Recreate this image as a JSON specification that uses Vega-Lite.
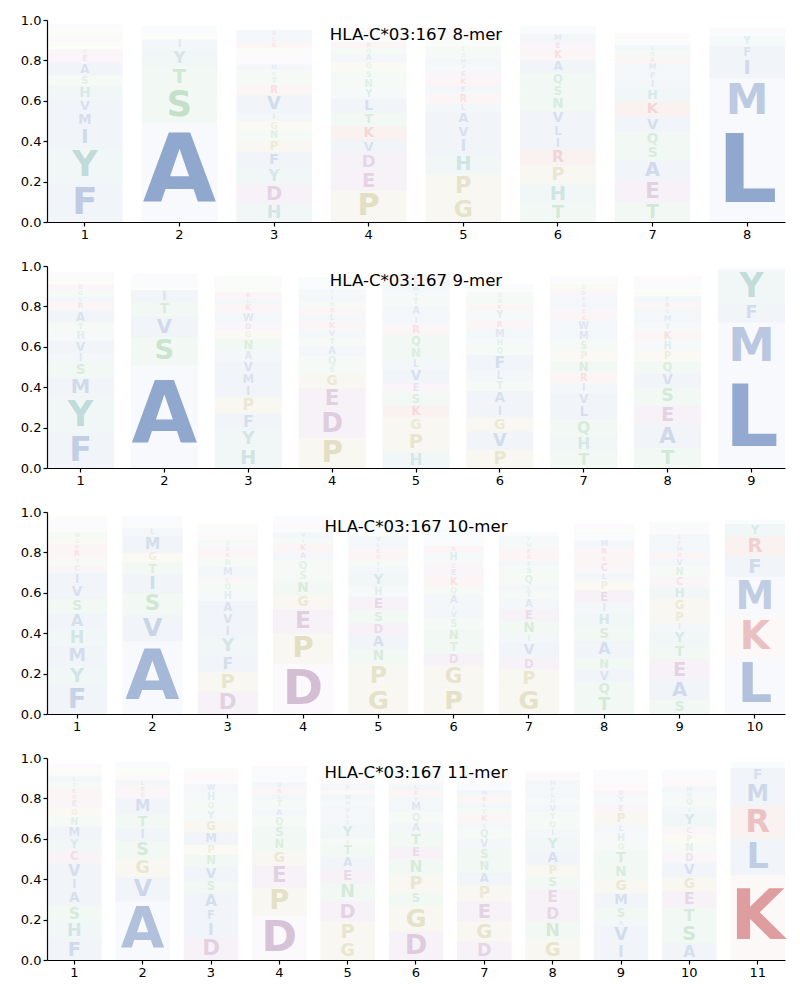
{
"$schema": "https://vega.github.io/schema/vega-lite/v6.json",
"padding": {"left": 20, "top": 14, "right": 15, "bottom": 5},
"spacing": 19,
"resolve": {"scale": {"x": "independent", "size": "independent"}},
"data": {"values": [
{"k":"8-mer","p":1,"a":"F","h":0.19},{"k":"8-mer","p":1,"a":"Y","h":0.18},{"k":"8-mer","p":1,"a":"I","h":0.10},{"k":"8-mer","p":1,"a":"M","h":0.07},{"k":"8-mer","p":1,"a":"V","h":0.065},{"k":"8-mer","p":1,"a":"H","h":0.07},{"k":"8-mer","p":1,"a":"S","h":0.05},{"k":"8-mer","p":1,"a":"A","h":0.06},{"k":"8-mer","p":1,"a":"E","h":0.04},{"k":"8-mer","p":1,"a":"C","h":0.03},{"k":"8-mer","p":1,"a":"G","h":0.02},{"k":"8-mer","p":1,"a":"T","h":0.02},{"k":"8-mer","p":1,"a":"R","h":0.02},{"k":"8-mer","p":1,"a":"Q","h":0.015},{"k":"8-mer","p":1,"a":"N","h":0.01},{"k":"8-mer","p":1,"a":"P","h":0.01},{"k":"8-mer","p":1,"a":"L","h":0.01},{"k":"8-mer","p":1,"a":"W","h":0.01},{"k":"8-mer","p":1,"a":"D","h":0.01},
{"k":"8-mer","p":2,"a":"A","h":0.49},{"k":"8-mer","p":2,"a":"S","h":0.18},{"k":"8-mer","p":2,"a":"T","h":0.10},{"k":"8-mer","p":2,"a":"Y","h":0.085},{"k":"8-mer","p":2,"a":"I","h":0.05},{"k":"8-mer","p":2,"a":"G","h":0.02},{"k":"8-mer","p":2,"a":"V","h":0.015},{"k":"8-mer","p":2,"a":"L","h":0.01},{"k":"8-mer","p":2,"a":"M","h":0.01},{"k":"8-mer","p":2,"a":"F","h":0.01},
{"k":"8-mer","p":3,"a":"H","h":0.09},{"k":"8-mer","p":3,"a":"D","h":0.10},{"k":"8-mer","p":3,"a":"Y","h":0.08},{"k":"8-mer","p":3,"a":"F","h":0.075},{"k":"8-mer","p":3,"a":"P","h":0.06},{"k":"8-mer","p":3,"a":"N","h":0.05},{"k":"8-mer","p":3,"a":"G","h":0.045},{"k":"8-mer","p":3,"a":"I","h":0.04},{"k":"8-mer","p":3,"a":"V","h":0.09},{"k":"8-mer","p":3,"a":"R","h":0.05},{"k":"8-mer","p":3,"a":"T","h":0.04},{"k":"8-mer","p":3,"a":"S","h":0.03},{"k":"8-mer","p":3,"a":"M","h":0.03},{"k":"8-mer","p":3,"a":"E","h":0.02},{"k":"8-mer","p":3,"a":"W","h":0.02},{"k":"8-mer","p":3,"a":"C","h":0.02},{"k":"8-mer","p":3,"a":"Q","h":0.02},{"k":"8-mer","p":3,"a":"K","h":0.03},{"k":"8-mer","p":3,"a":"L","h":0.03},{"k":"8-mer","p":3,"a":"A","h":0.03},
{"k":"8-mer","p":4,"a":"P","h":0.155},{"k":"8-mer","p":4,"a":"E","h":0.10},{"k":"8-mer","p":4,"a":"D","h":0.085},{"k":"8-mer","p":4,"a":"V","h":0.065},{"k":"8-mer","p":4,"a":"K","h":0.07},{"k":"8-mer","p":4,"a":"T","h":0.065},{"k":"8-mer","p":4,"a":"L","h":0.07},{"k":"8-mer","p":4,"a":"Y","h":0.05},{"k":"8-mer","p":4,"a":"N","h":0.05},{"k":"8-mer","p":4,"a":"S","h":0.04},{"k":"8-mer","p":4,"a":"G","h":0.04},{"k":"8-mer","p":4,"a":"A","h":0.04},{"k":"8-mer","p":4,"a":"Q","h":0.03},{"k":"8-mer","p":4,"a":"R","h":0.03},{"k":"8-mer","p":4,"a":"M","h":0.02},{"k":"8-mer","p":4,"a":"F","h":0.02},{"k":"8-mer","p":4,"a":"H","h":0.02},{"k":"8-mer","p":4,"a":"C","h":0.01},
{"k":"8-mer","p":5,"a":"G","h":0.12},{"k":"8-mer","p":5,"a":"P","h":0.115},{"k":"8-mer","p":5,"a":"H","h":0.10},{"k":"8-mer","p":5,"a":"I","h":0.08},{"k":"8-mer","p":5,"a":"V","h":0.065},{"k":"8-mer","p":5,"a":"A","h":0.065},{"k":"8-mer","p":5,"a":"L","h":0.04},{"k":"8-mer","p":5,"a":"R","h":0.05},{"k":"8-mer","p":5,"a":"F","h":0.04},{"k":"8-mer","p":5,"a":"K","h":0.04},{"k":"8-mer","p":5,"a":"E","h":0.035},{"k":"8-mer","p":5,"a":"Y","h":0.03},{"k":"8-mer","p":5,"a":"M","h":0.03},{"k":"8-mer","p":5,"a":"S","h":0.03},{"k":"8-mer","p":5,"a":"T","h":0.03},{"k":"8-mer","p":5,"a":"N","h":0.02},{"k":"8-mer","p":5,"a":"Q","h":0.02},{"k":"8-mer","p":5,"a":"D","h":0.02},{"k":"8-mer","p":5,"a":"C","h":0.02},{"k":"8-mer","p":5,"a":"W","h":0.01},
{"k":"8-mer","p":6,"a":"T","h":0.09},{"k":"8-mer","p":6,"a":"H","h":0.10},{"k":"8-mer","p":6,"a":"P","h":0.09},{"k":"8-mer","p":6,"a":"R","h":0.08},{"k":"8-mer","p":6,"a":"I","h":0.06},{"k":"8-mer","p":6,"a":"L","h":0.06},{"k":"8-mer","p":6,"a":"V","h":0.07},{"k":"8-mer","p":6,"a":"N","h":0.07},{"k":"8-mer","p":6,"a":"S","h":0.06},{"k":"8-mer","p":6,"a":"Q","h":0.06},{"k":"8-mer","p":6,"a":"A","h":0.06},{"k":"8-mer","p":6,"a":"K","h":0.05},{"k":"8-mer","p":6,"a":"E","h":0.04},{"k":"8-mer","p":6,"a":"M","h":0.04},{"k":"8-mer","p":6,"a":"F","h":0.02},{"k":"8-mer","p":6,"a":"Y","h":0.02},
{"k":"8-mer","p":7,"a":"T","h":0.095},{"k":"8-mer","p":7,"a":"E","h":0.11},{"k":"8-mer","p":7,"a":"A","h":0.10},{"k":"8-mer","p":7,"a":"S","h":0.07},{"k":"8-mer","p":7,"a":"Q","h":0.07},{"k":"8-mer","p":7,"a":"V","h":0.075},{"k":"8-mer","p":7,"a":"K","h":0.075},{"k":"8-mer","p":7,"a":"H","h":0.065},{"k":"8-mer","p":7,"a":"I","h":0.045},{"k":"8-mer","p":7,"a":"F","h":0.04},{"k":"8-mer","p":7,"a":"M","h":0.04},{"k":"8-mer","p":7,"a":"R","h":0.03},{"k":"8-mer","p":7,"a":"N","h":0.03},{"k":"8-mer","p":7,"a":"L","h":0.03},{"k":"8-mer","p":7,"a":"Y","h":0.02},{"k":"8-mer","p":7,"a":"G","h":0.02},{"k":"8-mer","p":7,"a":"D","h":0.02},
{"k":"8-mer","p":8,"a":"L","h":0.49},{"k":"8-mer","p":8,"a":"M","h":0.22},{"k":"8-mer","p":8,"a":"I","h":0.10},{"k":"8-mer","p":8,"a":"F","h":0.06},{"k":"8-mer","p":8,"a":"Y","h":0.05},{"k":"8-mer","p":8,"a":"V","h":0.02},{"k":"8-mer","p":8,"a":"K","h":0.01},{"k":"8-mer","p":8,"a":"W","h":0.01},
{"k":"9-mer","p":1,"a":"F","h":0.17},{"k":"9-mer","p":1,"a":"Y","h":0.18},{"k":"9-mer","p":1,"a":"M","h":0.10},{"k":"9-mer","p":1,"a":"S","h":0.07},{"k":"9-mer","p":1,"a":"I","h":0.05},{"k":"9-mer","p":1,"a":"V","h":0.06},{"k":"9-mer","p":1,"a":"H","h":0.05},{"k":"9-mer","p":1,"a":"T","h":0.04},{"k":"9-mer","p":1,"a":"A","h":0.06},{"k":"9-mer","p":1,"a":"R","h":0.04},{"k":"9-mer","p":1,"a":"L","h":0.03},{"k":"9-mer","p":1,"a":"Q","h":0.03},{"k":"9-mer","p":1,"a":"E","h":0.03},{"k":"9-mer","p":1,"a":"G","h":0.02},{"k":"9-mer","p":1,"a":"N","h":0.02},{"k":"9-mer","p":1,"a":"D","h":0.02},
{"k":"9-mer","p":2,"a":"A","h":0.51},{"k":"9-mer","p":2,"a":"S","h":0.14},{"k":"9-mer","p":2,"a":"V","h":0.10},{"k":"9-mer","p":2,"a":"T","h":0.07},{"k":"9-mer","p":2,"a":"I","h":0.06},{"k":"9-mer","p":2,"a":"G","h":0.02},{"k":"9-mer","p":2,"a":"L","h":0.02},{"k":"9-mer","p":2,"a":"Q","h":0.01},{"k":"9-mer","p":2,"a":"M","h":0.01},{"k":"9-mer","p":2,"a":"F","h":0.01},{"k":"9-mer","p":2,"a":"K","h":0.01},
{"k":"9-mer","p":3,"a":"H","h":0.10},{"k":"9-mer","p":3,"a":"Y","h":0.09},{"k":"9-mer","p":3,"a":"F","h":0.08},{"k":"9-mer","p":3,"a":"P","h":0.08},{"k":"9-mer","p":3,"a":"I","h":0.06},{"k":"9-mer","p":3,"a":"M","h":0.06},{"k":"9-mer","p":3,"a":"V","h":0.06},{"k":"9-mer","p":3,"a":"A","h":0.05},{"k":"9-mer","p":3,"a":"N","h":0.06},{"k":"9-mer","p":3,"a":"G","h":0.04},{"k":"9-mer","p":3,"a":"D","h":0.04},{"k":"9-mer","p":3,"a":"W","h":0.05},{"k":"9-mer","p":3,"a":"K","h":0.04},{"k":"9-mer","p":3,"a":"L","h":0.03},{"k":"9-mer","p":3,"a":"R","h":0.03},{"k":"9-mer","p":3,"a":"S","h":0.02},{"k":"9-mer","p":3,"a":"T","h":0.02},{"k":"9-mer","p":3,"a":"E","h":0.02},{"k":"9-mer","p":3,"a":"Q","h":0.02},
{"k":"9-mer","p":4,"a":"P","h":0.15},{"k":"9-mer","p":4,"a":"D","h":0.135},{"k":"9-mer","p":4,"a":"E","h":0.11},{"k":"9-mer","p":4,"a":"G","h":0.07},{"k":"9-mer","p":4,"a":"S","h":0.04},{"k":"9-mer","p":4,"a":"Q","h":0.05},{"k":"9-mer","p":4,"a":"A","h":0.05},{"k":"9-mer","p":4,"a":"T","h":0.04},{"k":"9-mer","p":4,"a":"V","h":0.04},{"k":"9-mer","p":4,"a":"K","h":0.04},{"k":"9-mer","p":4,"a":"L","h":0.04},{"k":"9-mer","p":4,"a":"R","h":0.03},{"k":"9-mer","p":4,"a":"N","h":0.03},{"k":"9-mer","p":4,"a":"I","h":0.03},{"k":"9-mer","p":4,"a":"Y","h":0.03},{"k":"9-mer","p":4,"a":"F","h":0.02},{"k":"9-mer","p":4,"a":"M","h":0.02},{"k":"9-mer","p":4,"a":"H","h":0.02},
{"k":"9-mer","p":5,"a":"H","h":0.08},{"k":"9-mer","p":5,"a":"P","h":0.10},{"k":"9-mer","p":5,"a":"G","h":0.07},{"k":"9-mer","p":5,"a":"K","h":0.06},{"k":"9-mer","p":5,"a":"S","h":0.06},{"k":"9-mer","p":5,"a":"E","h":0.05},{"k":"9-mer","p":5,"a":"V","h":0.07},{"k":"9-mer","p":5,"a":"L","h":0.05},{"k":"9-mer","p":5,"a":"N","h":0.06},{"k":"9-mer","p":5,"a":"Q","h":0.06},{"k":"9-mer","p":5,"a":"R","h":0.05},{"k":"9-mer","p":5,"a":"I","h":0.04},{"k":"9-mer","p":5,"a":"A","h":0.05},{"k":"9-mer","p":5,"a":"T","h":0.04},{"k":"9-mer","p":5,"a":"Y","h":0.03},{"k":"9-mer","p":5,"a":"M","h":0.03},{"k":"9-mer","p":5,"a":"F","h":0.03},{"k":"9-mer","p":5,"a":"D","h":0.03},
{"k":"9-mer","p":6,"a":"P","h":0.09},{"k":"9-mer","p":6,"a":"V","h":0.09},{"k":"9-mer","p":6,"a":"G","h":0.07},{"k":"9-mer","p":6,"a":"I","h":0.06},{"k":"9-mer","p":6,"a":"A","h":0.07},{"k":"9-mer","p":6,"a":"T","h":0.05},{"k":"9-mer","p":6,"a":"L","h":0.05},{"k":"9-mer","p":6,"a":"F","h":0.08},{"k":"9-mer","p":6,"a":"Q","h":0.04},{"k":"9-mer","p":6,"a":"H","h":0.04},{"k":"9-mer","p":6,"a":"M","h":0.05},{"k":"9-mer","p":6,"a":"R","h":0.04},{"k":"9-mer","p":6,"a":"Y","h":0.05},{"k":"9-mer","p":6,"a":"K","h":0.03},{"k":"9-mer","p":6,"a":"N","h":0.03},{"k":"9-mer","p":6,"a":"S","h":0.03},{"k":"9-mer","p":6,"a":"D","h":0.02},{"k":"9-mer","p":6,"a":"W","h":0.02},
{"k":"9-mer","p":7,"a":"T","h":0.08},{"k":"9-mer","p":7,"a":"H","h":0.08},{"k":"9-mer","p":7,"a":"Q","h":0.08},{"k":"9-mer","p":7,"a":"L","h":0.07},{"k":"9-mer","p":7,"a":"V","h":0.06},{"k":"9-mer","p":7,"a":"I","h":0.05},{"k":"9-mer","p":7,"a":"R","h":0.05},{"k":"9-mer","p":7,"a":"N","h":0.06},{"k":"9-mer","p":7,"a":"P","h":0.05},{"k":"9-mer","p":7,"a":"S","h":0.05},{"k":"9-mer","p":7,"a":"M","h":0.05},{"k":"9-mer","p":7,"a":"W","h":0.05},{"k":"9-mer","p":7,"a":"K","h":0.03},{"k":"9-mer","p":7,"a":"E","h":0.03},{"k":"9-mer","p":7,"a":"A","h":0.03},{"k":"9-mer","p":7,"a":"F","h":0.03},{"k":"9-mer","p":7,"a":"D","h":0.03},{"k":"9-mer","p":7,"a":"G","h":0.03},{"k":"9-mer","p":7,"a":"Y","h":0.02},{"k":"9-mer","p":7,"a":"C","h":0.02},
{"k":"9-mer","p":8,"a":"T","h":0.10},{"k":"9-mer","p":8,"a":"A","h":0.11},{"k":"9-mer","p":8,"a":"E","h":0.10},{"k":"9-mer","p":8,"a":"S","h":0.09},{"k":"9-mer","p":8,"a":"V","h":0.07},{"k":"9-mer","p":8,"a":"Q","h":0.06},{"k":"9-mer","p":8,"a":"P","h":0.05},{"k":"9-mer","p":8,"a":"H","h":0.05},{"k":"9-mer","p":8,"a":"K","h":0.05},{"k":"9-mer","p":8,"a":"Y","h":0.04},{"k":"9-mer","p":8,"a":"M","h":0.04},{"k":"9-mer","p":8,"a":"L","h":0.03},{"k":"9-mer","p":8,"a":"R","h":0.03},{"k":"9-mer","p":8,"a":"F","h":0.03},{"k":"9-mer","p":8,"a":"N","h":0.02},{"k":"9-mer","p":8,"a":"G","h":0.02},{"k":"9-mer","p":8,"a":"I","h":0.02},{"k":"9-mer","p":8,"a":"D","h":0.02},{"k":"9-mer","p":8,"a":"C","h":0.02},
{"k":"9-mer","p":9,"a":"L","h":0.48},{"k":"9-mer","p":9,"a":"M","h":0.24},{"k":"9-mer","p":9,"a":"F","h":0.09},{"k":"9-mer","p":9,"a":"Y","h":0.17},{"k":"9-mer","p":9,"a":"V","h":0.01},
{"k":"10-mer","p":1,"a":"F","h":0.14},{"k":"10-mer","p":1,"a":"Y","h":0.10},{"k":"10-mer","p":1,"a":"M","h":0.09},{"k":"10-mer","p":1,"a":"H","h":0.09},{"k":"10-mer","p":1,"a":"A","h":0.08},{"k":"10-mer","p":1,"a":"S","h":0.07},{"k":"10-mer","p":1,"a":"V","h":0.07},{"k":"10-mer","p":1,"a":"I","h":0.06},{"k":"10-mer","p":1,"a":"C","h":0.04},{"k":"10-mer","p":1,"a":"T","h":0.03},{"k":"10-mer","p":1,"a":"R","h":0.04},{"k":"10-mer","p":1,"a":"K","h":0.03},{"k":"10-mer","p":1,"a":"G","h":0.03},{"k":"10-mer","p":1,"a":"N","h":0.03},{"k":"10-mer","p":1,"a":"Q","h":0.02},{"k":"10-mer","p":1,"a":"E","h":0.02},{"k":"10-mer","p":1,"a":"L","h":0.02},{"k":"10-mer","p":1,"a":"P","h":0.02},
{"k":"10-mer","p":2,"a":"A","h":0.36},{"k":"10-mer","p":2,"a":"V","h":0.13},{"k":"10-mer","p":2,"a":"S","h":0.11},{"k":"10-mer","p":2,"a":"I","h":0.09},{"k":"10-mer","p":2,"a":"T","h":0.06},{"k":"10-mer","p":2,"a":"G","h":0.05},{"k":"10-mer","p":2,"a":"M","h":0.08},{"k":"10-mer","p":2,"a":"L","h":0.04},{"k":"10-mer","p":2,"a":"Q","h":0.02},{"k":"10-mer","p":2,"a":"K","h":0.01},{"k":"10-mer","p":2,"a":"E","h":0.01},{"k":"10-mer","p":2,"a":"F","h":0.01},{"k":"10-mer","p":2,"a":"Y","h":0.01},
{"k":"10-mer","p":3,"a":"D","h":0.11},{"k":"10-mer","p":3,"a":"P","h":0.10},{"k":"10-mer","p":3,"a":"F","h":0.08},{"k":"10-mer","p":3,"a":"Y","h":0.09},{"k":"10-mer","p":3,"a":"I","h":0.06},{"k":"10-mer","p":3,"a":"V","h":0.06},{"k":"10-mer","p":3,"a":"A","h":0.06},{"k":"10-mer","p":3,"a":"H","h":0.05},{"k":"10-mer","p":3,"a":"Q","h":0.04},{"k":"10-mer","p":3,"a":"C","h":0.03},{"k":"10-mer","p":3,"a":"M","h":0.05},{"k":"10-mer","p":3,"a":"N","h":0.04},{"k":"10-mer","p":3,"a":"K","h":0.03},{"k":"10-mer","p":3,"a":"E","h":0.03},{"k":"10-mer","p":3,"a":"S","h":0.03},{"k":"10-mer","p":3,"a":"R","h":0.02},{"k":"10-mer","p":3,"a":"T","h":0.02},{"k":"10-mer","p":3,"a":"W","h":0.02},{"k":"10-mer","p":3,"a":"G","h":0.02},
{"k":"10-mer","p":4,"a":"D","h":0.25},{"k":"10-mer","p":4,"a":"P","h":0.15},{"k":"10-mer","p":4,"a":"E","h":0.12},{"k":"10-mer","p":4,"a":"G","h":0.07},{"k":"10-mer","p":4,"a":"N","h":0.07},{"k":"10-mer","p":4,"a":"S","h":0.05},{"k":"10-mer","p":4,"a":"Q","h":0.05},{"k":"10-mer","p":4,"a":"A","h":0.04},{"k":"10-mer","p":4,"a":"K","h":0.04},{"k":"10-mer","p":4,"a":"T","h":0.03},{"k":"10-mer","p":4,"a":"V","h":0.03},{"k":"10-mer","p":4,"a":"L","h":0.02},{"k":"10-mer","p":4,"a":"R","h":0.02},{"k":"10-mer","p":4,"a":"M","h":0.02},{"k":"10-mer","p":4,"a":"F","h":0.02},
{"k":"10-mer","p":5,"a":"G","h":0.13},{"k":"10-mer","p":5,"a":"P","h":0.12},{"k":"10-mer","p":5,"a":"N","h":0.07},{"k":"10-mer","p":5,"a":"A","h":0.07},{"k":"10-mer","p":5,"a":"D","h":0.06},{"k":"10-mer","p":5,"a":"S","h":0.06},{"k":"10-mer","p":5,"a":"E","h":0.07},{"k":"10-mer","p":5,"a":"H","h":0.05},{"k":"10-mer","p":5,"a":"Y","h":0.07},{"k":"10-mer","p":5,"a":"I","h":0.03},{"k":"10-mer","p":5,"a":"T","h":0.03},{"k":"10-mer","p":5,"a":"R","h":0.03},{"k":"10-mer","p":5,"a":"K","h":0.03},{"k":"10-mer","p":5,"a":"L","h":0.03},{"k":"10-mer","p":5,"a":"V","h":0.03},{"k":"10-mer","p":5,"a":"Q","h":0.02},{"k":"10-mer","p":5,"a":"M","h":0.02},{"k":"10-mer","p":5,"a":"F","h":0.02},{"k":"10-mer","p":5,"a":"W","h":0.02},
{"k":"10-mer","p":6,"a":"P","h":0.13},{"k":"10-mer","p":6,"a":"G","h":0.11},{"k":"10-mer","p":6,"a":"D","h":0.06},{"k":"10-mer","p":6,"a":"T","h":0.06},{"k":"10-mer","p":6,"a":"N","h":0.06},{"k":"10-mer","p":6,"a":"S","h":0.05},{"k":"10-mer","p":6,"a":"V","h":0.04},{"k":"10-mer","p":6,"a":"I","h":0.03},{"k":"10-mer","p":6,"a":"A","h":0.05},{"k":"10-mer","p":6,"a":"Q","h":0.04},{"k":"10-mer","p":6,"a":"K","h":0.05},{"k":"10-mer","p":6,"a":"E","h":0.04},{"k":"10-mer","p":6,"a":"C","h":0.03},{"k":"10-mer","p":6,"a":"H","h":0.05},{"k":"10-mer","p":6,"a":"R","h":0.03},{"k":"10-mer","p":6,"a":"L","h":0.02},{"k":"10-mer","p":6,"a":"M","h":0.02},{"k":"10-mer","p":6,"a":"F","h":0.02},{"k":"10-mer","p":6,"a":"Y","h":0.02},{"k":"10-mer","p":6,"a":"W","h":0.02},
{"k":"10-mer","p":7,"a":"G","h":0.13},{"k":"10-mer","p":7,"a":"P","h":0.09},{"k":"10-mer","p":7,"a":"D","h":0.06},{"k":"10-mer","p":7,"a":"V","h":0.07},{"k":"10-mer","p":7,"a":"I","h":0.04},{"k":"10-mer","p":7,"a":"N","h":0.07},{"k":"10-mer","p":7,"a":"E","h":0.06},{"k":"10-mer","p":7,"a":"A","h":0.05},{"k":"10-mer","p":7,"a":"T","h":0.04},{"k":"10-mer","p":7,"a":"L","h":0.03},{"k":"10-mer","p":7,"a":"Q","h":0.05},{"k":"10-mer","p":7,"a":"S","h":0.04},{"k":"10-mer","p":7,"a":"F","h":0.03},{"k":"10-mer","p":7,"a":"R","h":0.03},{"k":"10-mer","p":7,"a":"K","h":0.03},{"k":"10-mer","p":7,"a":"H","h":0.03},{"k":"10-mer","p":7,"a":"Y","h":0.03},{"k":"10-mer","p":7,"a":"M","h":0.02},
{"k":"10-mer","p":8,"a":"T","h":0.09},{"k":"10-mer","p":8,"a":"Q","h":0.07},{"k":"10-mer","p":8,"a":"V","h":0.06},{"k":"10-mer","p":8,"a":"N","h":0.06},{"k":"10-mer","p":8,"a":"A","h":0.08},{"k":"10-mer","p":8,"a":"S","h":0.07},{"k":"10-mer","p":8,"a":"H","h":0.07},{"k":"10-mer","p":8,"a":"I","h":0.05},{"k":"10-mer","p":8,"a":"E","h":0.06},{"k":"10-mer","p":8,"a":"P","h":0.05},{"k":"10-mer","p":8,"a":"L","h":0.04},{"k":"10-mer","p":8,"a":"C","h":0.05},{"k":"10-mer","p":8,"a":"K","h":0.03},{"k":"10-mer","p":8,"a":"R","h":0.04},{"k":"10-mer","p":8,"a":"M","h":0.04},{"k":"10-mer","p":8,"a":"F","h":0.02},{"k":"10-mer","p":8,"a":"Y","h":0.02},{"k":"10-mer","p":8,"a":"G","h":0.02},{"k":"10-mer","p":8,"a":"D","h":0.02},
{"k":"10-mer","p":9,"a":"S","h":0.07},{"k":"10-mer","p":9,"a":"A","h":0.10},{"k":"10-mer","p":9,"a":"E","h":0.10},{"k":"10-mer","p":9,"a":"T","h":0.07},{"k":"10-mer","p":9,"a":"Y","h":0.07},{"k":"10-mer","p":9,"a":"I","h":0.04},{"k":"10-mer","p":9,"a":"P","h":0.06},{"k":"10-mer","p":9,"a":"G","h":0.06},{"k":"10-mer","p":9,"a":"H","h":0.06},{"k":"10-mer","p":9,"a":"C","h":0.05},{"k":"10-mer","p":9,"a":"N","h":0.05},{"k":"10-mer","p":9,"a":"V","h":0.04},{"k":"10-mer","p":9,"a":"R","h":0.03},{"k":"10-mer","p":9,"a":"M","h":0.03},{"k":"10-mer","p":9,"a":"F","h":0.03},{"k":"10-mer","p":9,"a":"L","h":0.03},{"k":"10-mer","p":9,"a":"D","h":0.02},{"k":"10-mer","p":9,"a":"Q","h":0.02},{"k":"10-mer","p":9,"a":"W","h":0.02},
{"k":"10-mer","p":10,"a":"L","h":0.28},{"k":"10-mer","p":10,"a":"K","h":0.20},{"k":"10-mer","p":10,"a":"M","h":0.20},{"k":"10-mer","p":10,"a":"F","h":0.10},{"k":"10-mer","p":10,"a":"R","h":0.10},{"k":"10-mer","p":10,"a":"Y","h":0.06},{"k":"10-mer","p":10,"a":"V","h":0.01},{"k":"10-mer","p":10,"a":"I","h":0.01},
{"k":"11-mer","p":1,"a":"F","h":0.10},{"k":"11-mer","p":1,"a":"H","h":0.09},{"k":"11-mer","p":1,"a":"S","h":0.08},{"k":"11-mer","p":1,"a":"A","h":0.07},{"k":"11-mer","p":1,"a":"I","h":0.06},{"k":"11-mer","p":1,"a":"V","h":0.08},{"k":"11-mer","p":1,"a":"C","h":0.06},{"k":"11-mer","p":1,"a":"Y","h":0.06},{"k":"11-mer","p":1,"a":"M","h":0.06},{"k":"11-mer","p":1,"a":"N","h":0.05},{"k":"11-mer","p":1,"a":"G","h":0.04},{"k":"11-mer","p":1,"a":"E","h":0.04},{"k":"11-mer","p":1,"a":"R","h":0.03},{"k":"11-mer","p":1,"a":"K","h":0.03},{"k":"11-mer","p":1,"a":"T","h":0.03},{"k":"11-mer","p":1,"a":"L","h":0.03},{"k":"11-mer","p":1,"a":"Q","h":0.02},{"k":"11-mer","p":1,"a":"P","h":0.02},{"k":"11-mer","p":1,"a":"D","h":0.02},
{"k":"11-mer","p":2,"a":"A","h":0.29},{"k":"11-mer","p":2,"a":"V","h":0.12},{"k":"11-mer","p":2,"a":"G","h":0.09},{"k":"11-mer","p":2,"a":"S","h":0.09},{"k":"11-mer","p":2,"a":"I","h":0.06},{"k":"11-mer","p":2,"a":"T","h":0.07},{"k":"11-mer","p":2,"a":"M","h":0.08},{"k":"11-mer","p":2,"a":"E","h":0.03},{"k":"11-mer","p":2,"a":"R","h":0.03},{"k":"11-mer","p":2,"a":"L","h":0.03},{"k":"11-mer","p":2,"a":"K","h":0.02},{"k":"11-mer","p":2,"a":"Q","h":0.02},{"k":"11-mer","p":2,"a":"P","h":0.02},{"k":"11-mer","p":2,"a":"F","h":0.02},{"k":"11-mer","p":2,"a":"Y","h":0.01},
{"k":"11-mer","p":3,"a":"D","h":0.11},{"k":"11-mer","p":3,"a":"I","h":0.08},{"k":"11-mer","p":3,"a":"F","h":0.06},{"k":"11-mer","p":3,"a":"A","h":0.08},{"k":"11-mer","p":3,"a":"S","h":0.06},{"k":"11-mer","p":3,"a":"V","h":0.07},{"k":"11-mer","p":3,"a":"N","h":0.06},{"k":"11-mer","p":3,"a":"P","h":0.05},{"k":"11-mer","p":3,"a":"M","h":0.06},{"k":"11-mer","p":3,"a":"G","h":0.06},{"k":"11-mer","p":3,"a":"Y","h":0.05},{"k":"11-mer","p":3,"a":"Q","h":0.04},{"k":"11-mer","p":3,"a":"H","h":0.05},{"k":"11-mer","p":3,"a":"W","h":0.04},{"k":"11-mer","p":3,"a":"E","h":0.02},{"k":"11-mer","p":3,"a":"K","h":0.02},{"k":"11-mer","p":3,"a":"R","h":0.02},{"k":"11-mer","p":3,"a":"T","h":0.02},
{"k":"11-mer","p":4,"a":"D","h":0.22},{"k":"11-mer","p":4,"a":"P","h":0.14},{"k":"11-mer","p":4,"a":"E","h":0.11},{"k":"11-mer","p":4,"a":"G","h":0.07},{"k":"11-mer","p":4,"a":"N","h":0.06},{"k":"11-mer","p":4,"a":"S","h":0.06},{"k":"11-mer","p":4,"a":"Q","h":0.05},{"k":"11-mer","p":4,"a":"A","h":0.04},{"k":"11-mer","p":4,"a":"T","h":0.04},{"k":"11-mer","p":4,"a":"L","h":0.03},{"k":"11-mer","p":4,"a":"R","h":0.03},{"k":"11-mer","p":4,"a":"V","h":0.03},{"k":"11-mer","p":4,"a":"H","h":0.02},{"k":"11-mer","p":4,"a":"I","h":0.02},{"k":"11-mer","p":4,"a":"M","h":0.02},{"k":"11-mer","p":4,"a":"K","h":0.02},
{"k":"11-mer","p":5,"a":"G","h":0.09},{"k":"11-mer","p":5,"a":"P","h":0.10},{"k":"11-mer","p":5,"a":"D","h":0.10},{"k":"11-mer","p":5,"a":"N","h":0.09},{"k":"11-mer","p":5,"a":"E","h":0.07},{"k":"11-mer","p":5,"a":"A","h":0.06},{"k":"11-mer","p":5,"a":"T","h":0.06},{"k":"11-mer","p":5,"a":"S","h":0.03},{"k":"11-mer","p":5,"a":"Y","h":0.07},{"k":"11-mer","p":5,"a":"I","h":0.03},{"k":"11-mer","p":5,"a":"L","h":0.03},{"k":"11-mer","p":5,"a":"V","h":0.03},{"k":"11-mer","p":5,"a":"H","h":0.03},{"k":"11-mer","p":5,"a":"M","h":0.03},{"k":"11-mer","p":5,"a":"K","h":0.02},{"k":"11-mer","p":5,"a":"F","h":0.03},{"k":"11-mer","p":5,"a":"R","h":0.02},{"k":"11-mer","p":5,"a":"Q","h":0.02},
{"k":"11-mer","p":6,"a":"D","h":0.14},{"k":"11-mer","p":6,"a":"G","h":0.13},{"k":"11-mer","p":6,"a":"S","h":0.06},{"k":"11-mer","p":6,"a":"P","h":0.09},{"k":"11-mer","p":6,"a":"N","h":0.08},{"k":"11-mer","p":6,"a":"E","h":0.06},{"k":"11-mer","p":6,"a":"T","h":0.07},{"k":"11-mer","p":6,"a":"A","h":0.05},{"k":"11-mer","p":6,"a":"Q","h":0.05},{"k":"11-mer","p":6,"a":"M","h":0.05},{"k":"11-mer","p":6,"a":"V","h":0.03},{"k":"11-mer","p":6,"a":"K","h":0.03},{"k":"11-mer","p":6,"a":"L","h":0.03},{"k":"11-mer","p":6,"a":"R","h":0.02},{"k":"11-mer","p":6,"a":"I","h":0.02},{"k":"11-mer","p":6,"a":"Y","h":0.02},{"k":"11-mer","p":6,"a":"H","h":0.02},
{"k":"11-mer","p":7,"a":"D","h":0.09},{"k":"11-mer","p":7,"a":"G","h":0.10},{"k":"11-mer","p":7,"a":"E","h":0.10},{"k":"11-mer","p":7,"a":"P","h":0.08},{"k":"11-mer","p":7,"a":"A","h":0.06},{"k":"11-mer","p":7,"a":"N","h":0.06},{"k":"11-mer","p":7,"a":"S","h":0.06},{"k":"11-mer","p":7,"a":"V","h":0.05},{"k":"11-mer","p":7,"a":"Q","h":0.05},{"k":"11-mer","p":7,"a":"I","h":0.03},{"k":"11-mer","p":7,"a":"K","h":0.04},{"k":"11-mer","p":7,"a":"T","h":0.03},{"k":"11-mer","p":7,"a":"L","h":0.03},{"k":"11-mer","p":7,"a":"R","h":0.03},{"k":"11-mer","p":7,"a":"M","h":0.03},{"k":"11-mer","p":7,"a":"F","h":0.02},{"k":"11-mer","p":7,"a":"Y","h":0.02},{"k":"11-mer","p":7,"a":"C","h":0.02},{"k":"11-mer","p":7,"a":"W","h":0.02},
{"k":"11-mer","p":8,"a":"G","h":0.10},{"k":"11-mer","p":8,"a":"N","h":0.09},{"k":"11-mer","p":8,"a":"D","h":0.08},{"k":"11-mer","p":8,"a":"E","h":0.08},{"k":"11-mer","p":8,"a":"S","h":0.06},{"k":"11-mer","p":8,"a":"P","h":0.06},{"k":"11-mer","p":8,"a":"A","h":0.07},{"k":"11-mer","p":8,"a":"Y","h":0.07},{"k":"11-mer","p":8,"a":"I","h":0.04},{"k":"11-mer","p":8,"a":"Q","h":0.04},{"k":"11-mer","p":8,"a":"T","h":0.04},{"k":"11-mer","p":8,"a":"V","h":0.04},{"k":"11-mer","p":8,"a":"H","h":0.03},{"k":"11-mer","p":8,"a":"L","h":0.03},{"k":"11-mer","p":8,"a":"F","h":0.03},{"k":"11-mer","p":8,"a":"M","h":0.03},{"k":"11-mer","p":8,"a":"K","h":0.02},{"k":"11-mer","p":8,"a":"R","h":0.02},
{"k":"11-mer","p":9,"a":"I","h":0.08},{"k":"11-mer","p":9,"a":"V","h":0.09},{"k":"11-mer","p":9,"a":"A","h":0.03},{"k":"11-mer","p":9,"a":"S","h":0.06},{"k":"11-mer","p":9,"a":"M","h":0.07},{"k":"11-mer","p":9,"a":"G","h":0.07},{"k":"11-mer","p":9,"a":"N","h":0.07},{"k":"11-mer","p":9,"a":"T","h":0.07},{"k":"11-mer","p":9,"a":"Q","h":0.04},{"k":"11-mer","p":9,"a":"H","h":0.05},{"k":"11-mer","p":9,"a":"L","h":0.04},{"k":"11-mer","p":9,"a":"P","h":0.06},{"k":"11-mer","p":9,"a":"E","h":0.04},{"k":"11-mer","p":9,"a":"Y","h":0.04},{"k":"11-mer","p":9,"a":"D","h":0.03},{"k":"11-mer","p":9,"a":"K","h":0.02},{"k":"11-mer","p":9,"a":"R","h":0.02},{"k":"11-mer","p":9,"a":"F","h":0.02},{"k":"11-mer","p":9,"a":"C","h":0.02},{"k":"11-mer","p":9,"a":"W","h":0.02},
{"k":"11-mer","p":10,"a":"A","h":0.08},{"k":"11-mer","p":10,"a":"S","h":0.10},{"k":"11-mer","p":10,"a":"T","h":0.08},{"k":"11-mer","p":10,"a":"E","h":0.08},{"k":"11-mer","p":10,"a":"G","h":0.07},{"k":"11-mer","p":10,"a":"V","h":0.07},{"k":"11-mer","p":10,"a":"D","h":0.05},{"k":"11-mer","p":10,"a":"N","h":0.05},{"k":"11-mer","p":10,"a":"P","h":0.04},{"k":"11-mer","p":10,"a":"C","h":0.04},{"k":"11-mer","p":10,"a":"Y","h":0.07},{"k":"11-mer","p":10,"a":"I","h":0.03},{"k":"11-mer","p":10,"a":"Q","h":0.04},{"k":"11-mer","p":10,"a":"H","h":0.03},{"k":"11-mer","p":10,"a":"M","h":0.03},{"k":"11-mer","p":10,"a":"K","h":0.02},{"k":"11-mer","p":10,"a":"R","h":0.02},{"k":"11-mer","p":10,"a":"L","h":0.02},{"k":"11-mer","p":10,"a":"F","h":0.02},
{"k":"11-mer","p":11,"a":"K","h":0.42},{"k":"11-mer","p":11,"a":"L","h":0.18},{"k":"11-mer","p":11,"a":"R","h":0.165},{"k":"11-mer","p":11,"a":"M","h":0.115},{"k":"11-mer","p":11,"a":"F","h":0.07},{"k":"11-mer","p":11,"a":"Y","h":0.02},{"k":"11-mer","p":11,"a":"V","h":0.01}
]},
"transform": [
 {"window": [{"op": "row_number", "as": "i"}], "groupby": ["k", "p"]},
 {"stack": "h", "groupby": ["k", "p"], "sort": [{"field": "i", "order": "ascending"}], "as": ["y0", "y1"]},
 {"calculate": "(datum.y0 + datum.y1) / 2", "as": "ym"}
],
"vconcat": [
 {"title": {"text": "HLA-C*03:167 8-mer"}, "width": 738, "height": 202,
  "transform": [{"filter": "datum.k == '8-mer'"}],
  "layer": [
   {"mark": {"type": "bar"},
    "encoding": {
     "x": {"field": "p", "type": "ordinal", "scale": {"paddingInner": 0.2, "paddingOuter": 0}, "axis": {"labelAngle": 0, "title": null}},
     "y": {"field": "y0", "type": "quantitative", "scale": {"domain": [0, 1], "nice": false}, "axis": {"values": [0, 0.2, 0.4, 0.6, 0.8, 1], "format": ".1f", "title": null}},
     "y2": {"field": "y1"},
     "color": {"field": "a", "type": "nominal", "scale": {"domain": ["A","L","M","F","V","I","W","Y","H","S","T","N","Q","K","R","D","E","C","P","G"], "range": ["#4C72B0","#4C72B0","#4C72B0","#4C72B0","#4C72B0","#4C72B0","#4C72B0","#4f9a94","#4f9a94","#55A868","#55A868","#55A868","#55A868","#C44E52","#C44E52","#935b93","#935b93","#b0608a","#a89f4a","#a89f4a"]}, "legend": null},
     "fillOpacity": {"field": "h", "type": "quantitative", "scale": {"type": "threshold", "domain": [0.03, 0.06, 0.1, 0.2], "range": [0.03, 0.06, 0.08, 0.08, 0.04]}, "legend": null}
    }},
   {"transform": [{"filter": "datum.h >= 0.03"}],
    "mark": {"type": "text", "font": "DejaVu Sans", "fontWeight": "bold", "baseline": "middle", "align": "center"},
    "encoding": {
     "x": {"field": "p", "type": "ordinal"},
     "y": {"field": "ym", "type": "quantitative"},
     "text": {"field": "a"},
     "color": {"field": "a", "type": "nominal", "legend": null},
     "opacity": {"field": "h", "type": "quantitative", "scale": {"type": "pow", "exponent": 0.7, "domain": [0, 0.5], "range": [0, 0.6], "clamp": true}, "legend": null},
     "size": {"field": "h", "type": "quantitative", "scale": {"type": "linear", "domain": [0, 0.487], "range": [0, 95], "clamp": true}, "legend": null}
    }}
  ]},
 {"title": {"text": "HLA-C*03:167 9-mer"}, "width": 738, "height": 202,
  "transform": [{"filter": "datum.k == '9-mer'"}],
  "layer": [
   {"mark": {"type": "bar"},
    "encoding": {
     "x": {"field": "p", "type": "ordinal", "scale": {"paddingInner": 0.2, "paddingOuter": 0}, "axis": {"labelAngle": 0, "title": null}},
     "y": {"field": "y0", "type": "quantitative", "scale": {"domain": [0, 1], "nice": false}, "axis": {"values": [0, 0.2, 0.4, 0.6, 0.8, 1], "format": ".1f", "title": null}},
     "y2": {"field": "y1"},
     "color": {"field": "a", "type": "nominal", "legend": null},
     "fillOpacity": {"field": "h", "type": "quantitative", "scale": {"type": "threshold", "domain": [0.03, 0.06, 0.1, 0.2], "range": [0.03, 0.06, 0.08, 0.08, 0.04]}, "legend": null}
    }},
   {"transform": [{"filter": "datum.h >= 0.03"}],
    "mark": {"type": "text", "font": "DejaVu Sans", "fontWeight": "bold", "baseline": "middle", "align": "center"},
    "encoding": {
     "x": {"field": "p", "type": "ordinal"},
     "y": {"field": "ym", "type": "quantitative"},
     "text": {"field": "a"},
     "color": {"field": "a", "type": "nominal", "legend": null},
     "opacity": {"field": "h", "type": "quantitative", "scale": {"type": "pow", "exponent": 0.7, "domain": [0, 0.5], "range": [0, 0.6], "clamp": true}, "legend": null},
     "size": {"field": "h", "type": "quantitative", "scale": {"type": "linear", "domain": [0, 0.436], "range": [0, 85], "clamp": true}, "legend": null}
    }}
  ]},
 {"title": {"text": "HLA-C*03:167 10-mer"}, "width": 738, "height": 202,
  "transform": [{"filter": "datum.k == '10-mer'"}],
  "layer": [
   {"mark": {"type": "bar"},
    "encoding": {
     "x": {"field": "p", "type": "ordinal", "scale": {"paddingInner": 0.2, "paddingOuter": 0}, "axis": {"labelAngle": 0, "title": null}},
     "y": {"field": "y0", "type": "quantitative", "scale": {"domain": [0, 1], "nice": false}, "axis": {"values": [0, 0.2, 0.4, 0.6, 0.8, 1], "format": ".1f", "title": null}},
     "y2": {"field": "y1"},
     "color": {"field": "a", "type": "nominal", "legend": null},
     "fillOpacity": {"field": "h", "type": "quantitative", "scale": {"type": "threshold", "domain": [0.03, 0.06, 0.1, 0.2], "range": [0.03, 0.06, 0.08, 0.08, 0.04]}, "legend": null}
    }},
   {"transform": [{"filter": "datum.h >= 0.03"}],
    "mark": {"type": "text", "font": "DejaVu Sans", "fontWeight": "bold", "baseline": "middle", "align": "center"},
    "encoding": {
     "x": {"field": "p", "type": "ordinal"},
     "y": {"field": "ym", "type": "quantitative"},
     "text": {"field": "a"},
     "color": {"field": "a", "type": "nominal", "legend": null},
     "opacity": {"field": "h", "type": "quantitative", "scale": {"type": "pow", "exponent": 0.7, "domain": [0, 0.5], "range": [0, 0.6], "clamp": true}, "legend": null},
     "size": {"field": "h", "type": "quantitative", "scale": {"type": "linear", "domain": [0, 0.39], "range": [0, 76], "clamp": true}, "legend": null}
    }}
  ]},
 {"title": {"text": "HLA-C*03:167 11-mer"}, "width": 738, "height": 202,
  "transform": [{"filter": "datum.k == '11-mer'"}],
  "layer": [
   {"mark": {"type": "bar"},
    "encoding": {
     "x": {"field": "p", "type": "ordinal", "scale": {"paddingInner": 0.2, "paddingOuter": 0}, "axis": {"labelAngle": 0, "title": null}},
     "y": {"field": "y0", "type": "quantitative", "scale": {"domain": [0, 1], "nice": false}, "axis": {"values": [0, 0.2, 0.4, 0.6, 0.8, 1], "format": ".1f", "title": null}},
     "y2": {"field": "y1"},
     "color": {"field": "a", "type": "nominal", "legend": null},
     "fillOpacity": {"field": "h", "type": "quantitative", "scale": {"type": "threshold", "domain": [0.03, 0.06, 0.1, 0.2], "range": [0.03, 0.06, 0.08, 0.08, 0.04]}, "legend": null}
    }},
   {"transform": [{"filter": "datum.h >= 0.03"}],
    "mark": {"type": "text", "font": "DejaVu Sans", "fontWeight": "bold", "baseline": "middle", "align": "center"},
    "encoding": {
     "x": {"field": "p", "type": "ordinal"},
     "y": {"field": "ym", "type": "quantitative"},
     "text": {"field": "a"},
     "color": {"field": "a", "type": "nominal", "legend": null},
     "opacity": {"field": "h", "type": "quantitative", "scale": {"type": "pow", "exponent": 0.7, "domain": [0, 0.5], "range": [0, 0.6], "clamp": true}, "legend": null},
     "size": {"field": "h", "type": "quantitative", "scale": {"type": "linear", "domain": [0, 0.36], "range": [0, 70], "clamp": true}, "legend": null}
    }}
  ]}
],
"config": {
 "view": {"stroke": null},
 "axis": {"domainColor": "#000", "tickColor": "#000", "labelColor": "#000", "labelFont": "DejaVu Sans", "labelFontSize": 13, "grid": false, "tickSize": 4, "labelPadding": 2, "domainWidth": 1.2, "tickWidth": 1.2},
 "title": {"offset": -30, "fontSize": 16.6, "fontWeight": "normal", "font": "DejaVu Sans", "color": "#000", "frame": "group", "anchor": "middle"}
}
}
